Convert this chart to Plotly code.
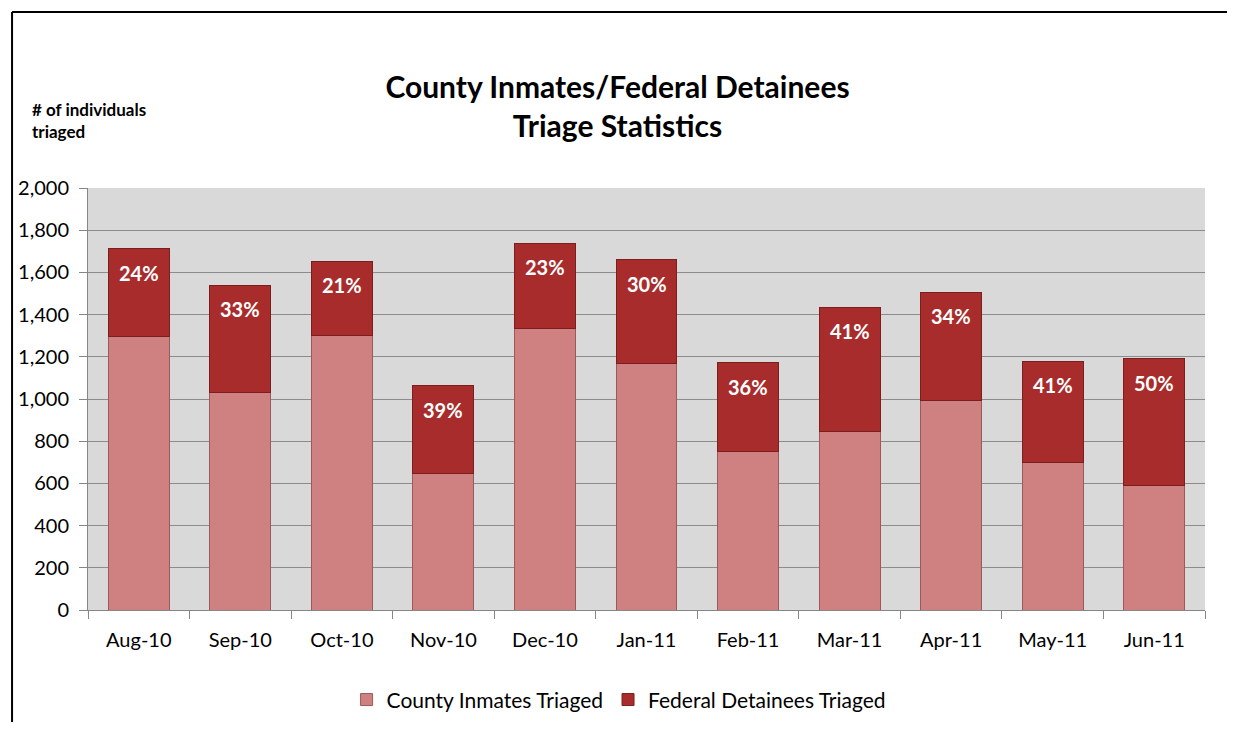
import plotly.graph_objects as go

months = ["Aug-10", "Sep-10", "Oct-10", "Nov-10", "Dec-10", "Jan-11",
          "Feb-11", "Mar-11", "Apr-11", "May-11", "Jun-11"]
county = [1294, 1033, 1299, 649, 1336, 1166, 752, 848, 995, 697, 592]
federal = [417, 507, 355, 413, 403, 493, 419, 588, 512, 483, 598]
fed_pct = ["24%", "33%", "21%", "39%", "23%", "30%", "36%", "41%", "34%", "41%", "50%"]

FONT = "Lato"
totals = [c + f for c, f in zip(county, federal)]

fig = go.Figure()
fig.add_trace(go.Bar(
    x=months, y=county, name="County Inmates Triaged",
    marker=dict(color="#cf8181", line=dict(color="#9a5a5a", width=1)),
    width=0.6, hoverinfo="y",
))
fig.add_trace(go.Bar(
    x=months, y=federal, name="Federal Detainees Triaged",
    marker=dict(color="#a82c2c", line=dict(color="#7a1e1e", width=1)),
    width=0.6, hoverinfo="y",
))

annotations = [dict(
    x=m, y=t, text="<b>%s</b>" % p, showarrow=False, yshift=-24,
    yanchor="middle", font=dict(family=FONT, size=20, color="white"),
) for m, t, p in zip(months, totals, fed_pct)]

annotations.append(dict(
    text="<b># of individuals<br>triaged</b>", xref="paper", yref="paper",
    x=-0.052, y=1.161, xanchor="left", yanchor="middle", align="left",
    showarrow=False, font=dict(family=FONT, size=17, color="black"),
))

fig.update_layout(
    width=1219, height=714,
    barmode="stack", bargap=0.4,
    margin=dict(l=80, r=22, t=180, b=112, autoexpand=False),
    paper_bgcolor="white", plot_bgcolor="#d9d9d9",
    font=dict(family=FONT, size=20, color="black"),
    title=dict(
        text="<b>County Inmates/Federal Detainees<br>Triage Statistics</b>",
        x=0.5, xref="container", xanchor="center", y=0.874, yref="container",
        yanchor="middle",
        font=dict(family=FONT, size=30, color="black"),
    ),
    showlegend=True,
    legend=dict(orientation="h", x=0.475, xanchor="center", y=-0.213, yanchor="middle",
                font=dict(family=FONT, size=21), traceorder="normal",
                itemwidth=30),
    xaxis=dict(
        showgrid=False, showline=True, linecolor="#868686", linewidth=1,
        ticks="outside", ticklen=8, tickcolor="#868686", tickson="boundaries",
        tickfont=dict(family=FONT, size=20), ticklabelstandoff=12,
    ),
    yaxis=dict(
        range=[0, 2000], dtick=200, tickformat=",d",
        showgrid=True, gridcolor="#8c8c8c", gridwidth=1,
        showline=True, linecolor="#868686", linewidth=1,
        ticks="outside", ticklen=8, tickcolor="#868686",
        tickfont=dict(family=FONT, size=20), zeroline=False,
        ticklabelstandoff=6,
    ),
    annotations=annotations,
    shapes=[
        dict(type="line", xref="paper", yref="paper", x0=-0.068, x1=-0.068,
             y0=1.417, y1=-0.35, line=dict(color="black", width=2)),
        dict(type="line", xref="paper", yref="paper", x0=-0.068, x1=1.05,
             y0=1.417, y1=1.417, line=dict(color="black", width=2)),
    ],
)

fig.write_html("out.html")
